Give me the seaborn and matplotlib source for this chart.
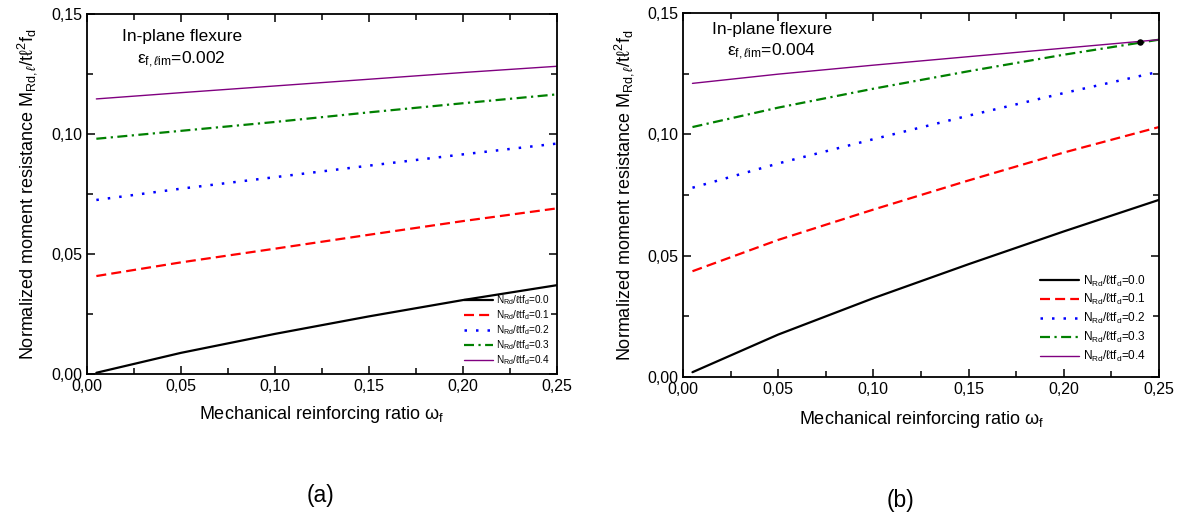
import matplotlib
matplotlib.use("Agg")
import matplotlib.pyplot as plt
from matplotlib.ticker import MultipleLocator, FuncFormatter
import seaborn as sns
import pandas as pd

# Mechanical reinforcing ratio (abscissa shared by every curve)
omega_f = [0.005, 0.05, 0.10, 0.15, 0.20, 0.25]

# Axial load levels N_Rd / (l t f_d)
axial_levels = ["0.0", "0.1", "0.2", "0.3", "0.4"]

# Normalized moment resistance, limit strain 0.002
m002_n00 = [0.0005, 0.0088, 0.0167, 0.0240, 0.0308, 0.0370]
m002_n01 = [0.0408, 0.0465, 0.0522, 0.0580, 0.0637, 0.0690]
m002_n02 = [0.0725, 0.0772, 0.0820, 0.0868, 0.0915, 0.0960]
m002_n03 = [0.0980, 0.1013, 0.1050, 0.1090, 0.1128, 0.1165]
m002_n04 = [0.1146, 0.1172, 0.1200, 0.1228, 0.1256, 0.1282]

# Normalized moment resistance, limit strain 0.004
m004_n00 = [0.0020, 0.0175, 0.0325, 0.0465, 0.0600, 0.0730]
m004_n01 = [0.0436, 0.0565, 0.0690, 0.0810, 0.0925, 0.1030]
m004_n02 = [0.0780, 0.0880, 0.0980, 0.1077, 0.1170, 0.1258]
m004_n03 = [0.1030, 0.1110, 0.1188, 0.1260, 0.1328, 0.1390]
m004_n04 = [0.1210, 0.1248, 0.1285, 0.1320, 0.1355, 0.1390]

# Highlighted point on the 0.004 chart
marker_omega = [0.240]
marker_moment = [0.138]

panels = [
    ("0.002", [m002_n00, m002_n01, m002_n02, m002_n03, m002_n04]),
    ("0.004", [m004_n00, m004_n01, m004_n02, m004_n03, m004_n04]),
]

line_styles = [
    dict(color="black", linestyle="-", linewidth=1.6),
    dict(color="#ff0000", linestyle=(0, (4.5, 2.3)), linewidth=1.6),
    dict(color="#0000ff", linestyle=(0, (1.0, 3.6)), linewidth=1.8),
    dict(color="#008000", linestyle=(0, (4.5, 2.0, 1.0, 2.0)), linewidth=1.6),
    dict(color="#800080", linestyle="-", linewidth=1.0),
]

sns.set_theme(style="ticks")
plt.rcParams["font.family"] = ["Liberation Sans", "DejaVu Sans"]
plt.rcParams["mathtext.fontset"] = "custom"
plt.rcParams["mathtext.rm"] = "Liberation Sans"
plt.rcParams["mathtext.it"] = "Liberation Sans:italic"
plt.rcParams["mathtext.bf"] = "Liberation Sans:bold"
plt.rcParams["text.color"] = "black"
plt.rcParams["axes.labelcolor"] = "black"

fig = plt.figure(figsize=(11.83, 5.13), dpi=100)
axes = [
    fig.add_axes([0.0735, 0.2710, 0.3973, 0.7018]),
    fig.add_axes([0.5773, 0.2650, 0.4024, 0.7097]),
]

comma = FuncFormatter(lambda v, _: f"{v:.2f}".replace(".", ","))

for idx, (ax, (eps_lim, series)) in enumerate(zip(axes, panels)):
    for level, values, style in zip(axial_levels, series, line_styles):
        df = pd.DataFrame({"omega": omega_f, "moment": values})
        sns.lineplot(data=df, x="omega", y="moment", ax=ax, errorbar=None,
                     label=r"N$_\mathrm{Rd}$/ℓtf$_\mathrm{d}$=" + level, **style)

    if idx == 1:
        sns.scatterplot(x=marker_omega, y=marker_moment, ax=ax, color="black",
                        s=22, edgecolor="black", linewidth=0, zorder=5)

    ax.set_xlim(0, 0.25)
    ax.set_ylim(0, 0.15)
    ax.xaxis.set_major_locator(MultipleLocator(0.05))
    ax.xaxis.set_minor_locator(MultipleLocator(0.025))
    ax.yaxis.set_major_locator(MultipleLocator(0.05))
    ax.yaxis.set_minor_locator(MultipleLocator(0.025))
    ax.xaxis.set_major_formatter(comma)
    ax.yaxis.set_major_formatter(comma)
    ax.tick_params(which="both", direction="in", top=True, right=True,
                   width=1.1, colors="black", labelsize=11.5)
    ax.tick_params(which="major", length=6)
    ax.tick_params(which="minor", length=4)
    for sp in ax.spines.values():
        sp.set_visible(True)
        sp.set_linewidth(1.3)
        sp.set_color("black")

    ax.set_xlabel(r"Mechanical reinforcing ratio ω$_\mathrm{f}$", fontsize=13,
                  labelpad=7 if idx == 0 else 9)
    ax.set_ylabel(r"Normalized moment resistance M$_{\mathrm{Rd},\ell}$/tℓ$^2$f$_\mathrm{d}$",
                  fontsize=13, labelpad=9 if idx == 0 else 8)

    if idx == 0:
        ax.text(0.202, 0.936, "In-plane flexure", transform=ax.transAxes,
                ha="center", va="center", fontsize=12.5)
        ax.text(0.200, 0.872, r"ε$_{\mathrm{f},\ell\mathrm{im}}$=" + eps_lim,
                transform=ax.transAxes, ha="center", va="center", fontsize=12.5)
        ax.legend(loc="lower right", frameon=False, fontsize=7.2, handlelength=2.9,
                  handletextpad=0.3, labelspacing=0.12, borderaxespad=0.25)
    else:
        ax.text(0.187, 0.955, "In-plane flexure", transform=ax.transAxes,
                ha="center", va="center", fontsize=12.5)
        ax.text(0.185, 0.893, r"ε$_{\mathrm{f},\ell\mathrm{im}}$=" + eps_lim,
                transform=ax.transAxes, ha="center", va="center", fontsize=12.5)
        ax.legend(loc="lower right", frameon=False, fontsize=8.5, handlelength=3.3,
                  handletextpad=0.3, labelspacing=0.32, borderaxespad=0.7)

fig.text(0.2705, 0.035, "(a)", ha="center", va="center", fontsize=16.5)
fig.text(0.761, 0.025, "(b)", ha="center", va="center", fontsize=16.5)

fig.savefig("out.png", dpi=100, facecolor="white")
